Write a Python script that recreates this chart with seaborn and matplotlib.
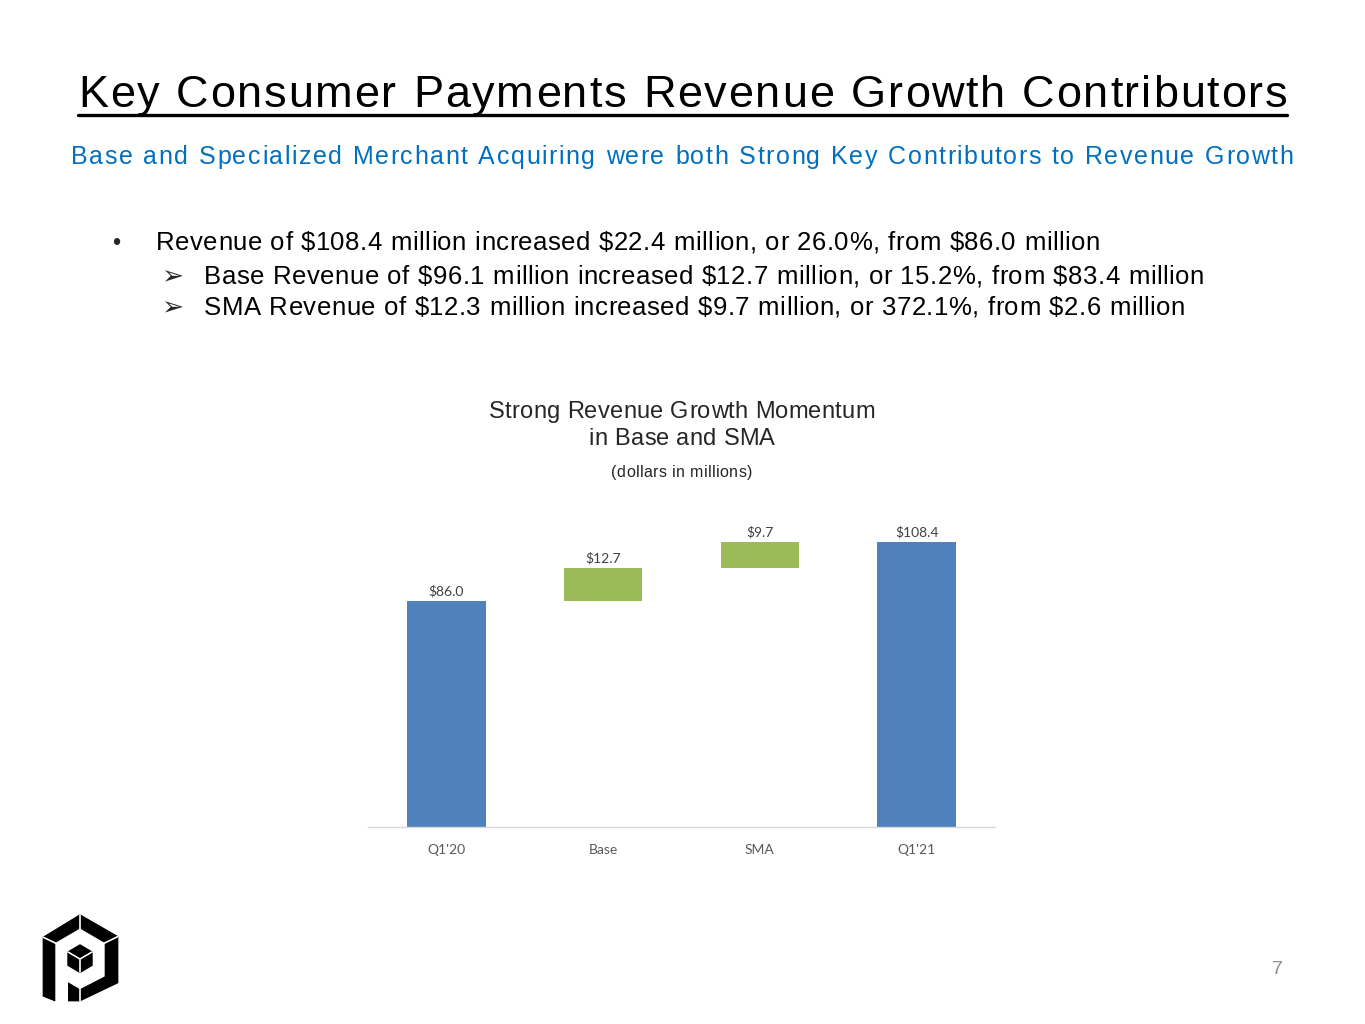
import matplotlib
matplotlib.use('Agg')
import matplotlib.pyplot as plt
from matplotlib import font_manager
from matplotlib.patches import Polygon
import seaborn as sns

# waterfall data (dollars in millions)
categories = ["Q1'20", "Base", "SMA", "Q1'21"]
amounts = [86.0, 12.7, 9.7, 108.4]
kinds = ['total', 'delta', 'delta', 'total']
bar_colors = {'total': '#4F81BD', 'delta': '#9BBB59'}

title = 'Key Consumer Payments Revenue Growth Contributors'
subtitle = ('Base and Specialized Merchant Acquiring were both Strong Key '
            'Contributors to Revenue Growth')
bullets = [
    ('•', 'Revenue of $108.4 million increased $22.4 million, or 26.0%, from $86.0 million'),
    ('➢', 'Base Revenue of $96.1 million increased $12.7 million, or 15.2%, from $83.4 million'),
    ('➢', 'SMA Revenue of $12.3 million increased $9.7 million, or 372.1%, from $2.6 million'),
]
chart_title = ['Strong Revenue Growth Momentum', 'in Base and SMA']
chart_note = '(dollars in millions)'
page_no = '7'


def waterfall_bottoms(amounts, kinds):
    bottoms = []
    running = 0.0
    for amt, kind in zip(amounts, kinds):
        if kind == 'total':
            bottoms.append(0.0)
            running = amt
        else:
            bottoms.append(running)
            running += amt
    return bottoms


sns.set_theme(style='white')
plt.rcParams['font.family'] = ['Liberation Sans', 'DejaVu Sans']

W, H = 1365, 1024
DPI = 100
fig = plt.figure(figsize=(W / DPI, H / DPI), dpi=DPI)


def fx(px):
    return px / W


def fy(py):
    return 1 - py / H


def char_advances(s, size, family='Liberation Sans'):
    prop = font_manager.FontProperties(family=family, size=size)
    font = font_manager.get_font(font_manager.findfont(prop))
    font.set_size(size, DPI)
    adv = []
    for ch in s:
        g = font.load_char(ord(ch))
        adv.append(g.linearHoriAdvance / 65536)
    return adv


def spaced_text(s, size, y, x0=None, x1=None, center=None, unit=None,
                space_weight=1.0, color='black', family='Liberation Sans'):
    """draw s letter by letter, stretched like the justified slide text"""
    adv = char_advances(s, size, family)
    weights = [space_weight if ch == ' ' else 1.0 for ch in s[:-1]] + [0.0]
    if unit is None:
        unit = (x1 - x0 - sum(adv)) / sum(weights)
    total = sum(adv) + unit * sum(weights)
    if center is not None:
        x0 = center - total / 2
    pos = x0
    for ch, a, w in zip(s, adv, weights):
        if ch != ' ':
            fig.text(fx(pos), fy(y), ch, ha='left', va='baseline',
                     fontsize=size, color=color, family=family)
        pos += a + unit * w
    return unit


#%% header text
spaced_text(title, 32.5, 107, x0=78, x1=1287, space_weight=1.5)
fig.add_artist(plt.Line2D([fx(78), fx(1287)], [fy(115), fy(115)],
                          color='black', lw=2.4, transform=fig.transFigure))
spaced_text(subtitle, 18, 164, x0=71, x1=1293, space_weight=1.5,
            color='#0070C0')

baselines = [250, 284, 315]
ends = [1100, 1204, 1185]
for (mark, txt), y, x_end in zip(bullets, baselines, ends):
    if mark == '•':
        fig.text(fx(112), fy(y), mark, ha='left', va='baseline', fontsize=17)
        spaced_text(txt, 18.5, y, x0=156, x1=x_end, space_weight=2)
    else:
        fig.text(fx(161), fy(y), mark, ha='left', va='baseline', fontsize=19,
                 family=['DejaVu Sans'])
        spaced_text(txt, 18.5, y, x0=204, x1=x_end, space_weight=2)

trk = spaced_text(chart_title[0], 17, 418, x0=489, x1=875, color='#262626')
spaced_text(chart_title[1], 17, 445, center=682, unit=trk, color='#262626')
spaced_text(chart_note, 11.5, 477, x0=611, x1=752, color='#262626')
fig.text(fx(1277), fy(970), page_no, ha='center', va='center',
         fontsize=14, color='#8C8C8C')

#%% waterfall chart
ax = fig.add_axes([fx(368), fy(827), fx(995) - fx(368), (827 - 511.6) / H])
bottoms = waterfall_bottoms(amounts, kinds)
sns.barplot(x=categories, y=amounts, bottom=bottoms, width=0.5,
            color=bar_colors['total'], saturation=1, errorbar=None, ax=ax)
for patch, kind in zip(ax.patches, kinds):
    patch.set_facecolor(bar_colors[kind])
    patch.set_edgecolor('none')

for i, (amt, b) in enumerate(zip(amounts, bottoms)):
    ax.text(i, b + amt + 1.2, f'${amt:.1f}', ha='center', va='bottom',
            fontsize=10, color='#404040', family=['Lato', 'DejaVu Sans'])

ax.set_xlim(-0.5, 3.5)
ax.set_ylim(0, 120)
ax.set_yticks([])
ax.set_xlabel('')
ax.set_ylabel('')
for side in ['top', 'left', 'right']:
    ax.spines[side].set_visible(False)
ax.spines['bottom'].set_color('#D9D9D9')
ax.spines['bottom'].set_linewidth(1)
ax.tick_params(axis='x', length=0, pad=12, labelsize=10, colors='#595959')
for lbl in ax.get_xticklabels():
    lbl.set_family(['Lato', 'DejaVu Sans'])
ax.set_facecolor('none')

#%% logo
lax = fig.add_axes([fx(30), fy(1010), fx(140) - fx(30), (1010 - 900) / H])
lax.set_xlim(0, 330)
lax.set_ylim(330, 0)
lax.axis('off')
outer = [(40, 112), (150, 45), (263, 110), (263, 248), (150, 302),
         (75, 302), (40, 288)]
inner = [(78, 130), (150, 88), (222, 130), (222, 228), (150, 265),
         (112, 243), (112, 310), (78, 310)]
cube = [(150, 135), (186, 156), (186, 196), (150, 217), (114, 196), (114, 156)]
lax.add_patch(Polygon(outer, closed=True, color='black'))
lax.add_patch(Polygon(inner, closed=True, color='white'))
lax.add_patch(Polygon(cube, closed=True, color='black'))
for seg in [[(114, 156), (150, 177), (186, 156)], [(150, 177), (150, 217)],
            [(150, 45), (150, 88)], [(222, 130), (263, 110)],
            [(40, 112), (78, 130)], [(150, 265), (150, 302)]]:
    xs, ys_ = zip(*seg)
    lax.plot(xs, ys_, color='white', lw=1.2)

fig.savefig('out.png', dpi=DPI, facecolor='white')
